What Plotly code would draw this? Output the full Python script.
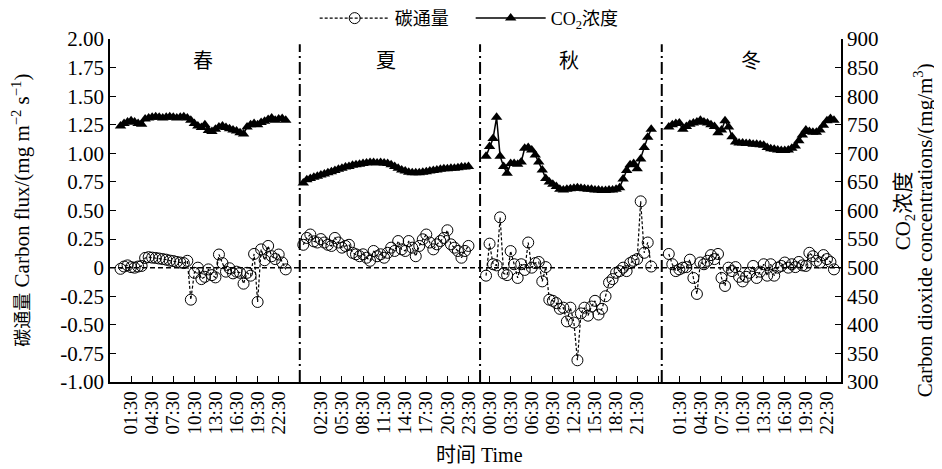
import plotly.graph_objects as go

# ---------------- data ----------------
seasons = ["春", "夏", "秋", "冬"]

flux_spring = [-0.01, 0.01, 0.02, 0.005, 0.0, 0.01, 0.015, 0.085, 0.092, 0.088, 0.085, 0.08,
               0.075, 0.07, 0.062, 0.058, 0.05, 0.045, 0.04, 0.06, -0.28, -0.045, 0.0, -0.1,
               -0.08, -0.015, -0.065, -0.085, 0.115, 0.04, -0.035, -0.005, -0.05, -0.035, -0.045, -0.14,
               -0.045, -0.07, 0.12, -0.30, 0.16, 0.065, 0.19, 0.10, 0.075, 0.115, 0.045, -0.015]
flux_summer = [0.20, 0.26, 0.29, 0.23, 0.22, 0.25, 0.22, 0.20, 0.19, 0.26, 0.22, 0.175,
               0.19, 0.20, 0.13, 0.117, 0.10, 0.117, 0.087, 0.06, 0.146, 0.10, 0.117, 0.087,
               0.13, 0.175, 0.146, 0.233, 0.16, 0.146, 0.233, 0.175, 0.10, 0.19, 0.248, 0.29,
               0.22, 0.16, 0.204, 0.233, 0.26, 0.327, 0.204, 0.175, 0.146, 0.087, 0.146, 0.19]
flux_autumn = [-0.07, 0.21, 0.03, 0.02, 0.44, -0.05, -0.065, 0.145, 0.03, -0.09, 0.03, -0.02,
               0.22, 0.0, 0.04, 0.05, -0.12, 0.005, -0.28, -0.29, -0.31, -0.36, -0.35, -0.47,
               -0.35, -0.48, -0.81, -0.40, -0.35, -0.42, -0.34, -0.29, -0.41, -0.36, -0.25, -0.13,
               -0.10, -0.045, -0.03, 0.0, -0.03, 0.04, 0.06, 0.075, 0.58, 0.13, 0.22, 0.01]
flux_winter = [0.12, 0.03, -0.03, -0.015, 0.0, 0.005, 0.07, -0.09, -0.23, 0.045, 0.03, 0.06,
               0.11, 0.075, 0.12, -0.09, -0.16, 0.0, -0.03, 0.005, -0.08, -0.12, -0.08, -0.045,
               0.015, -0.09, -0.035, 0.03, -0.07, 0.03, -0.07, 0.0, 0.015, 0.045, 0.0, 0.03,
               0.005, 0.05, 0.02, 0.015, 0.13, 0.10, 0.06, 0.045, 0.11, 0.075, 0.05, -0.015]

co2_spring = [748, 752, 755, 757, 755, 752, 751, 760, 762, 763, 764, 763,
              762, 763, 764, 763, 762, 763, 764, 762, 758, 752, 748, 745,
              750, 740, 738, 742, 746, 748, 745, 743, 741, 739, 736, 734,
              746, 750, 752, 750, 754, 756, 759, 762, 758, 760, 761, 758]
co2_summer = [648, 654, 656, 658, 660, 662, 664, 666, 668, 670, 672, 674,
              676, 677, 679, 680, 681, 682, 683, 684, 684, 683, 684, 683,
              682, 680, 677, 674, 671, 669, 667, 666, 666, 666, 667, 668,
              669, 670, 671, 672, 673, 673, 674, 674, 675, 676, 676, 677]
co2_autumn = [695, 712, 726, 763, 695, 677, 665, 682, 682, 681, 685, 709,
              710, 706, 697, 685, 671, 656, 650, 646, 642, 637, 636, 637,
              638, 639, 640, 639, 638, 637, 637, 636, 636, 635, 635, 636,
              636, 637, 640, 655, 670, 680, 682, 673, 690, 710, 728, 742]
co2_winter = [746, 750, 752, 753, 742, 747, 751, 753, 755, 758, 755, 753,
              750, 747, 736, 741, 757, 746, 729, 720, 718, 718, 717, 717,
              716, 716, 715, 714, 710, 708, 707, 706, 705, 705, 706, 709,
              713, 722, 732, 741, 738, 737, 737, 741, 749, 757, 761, 758]

tick_labels = ["01:30", "04:30", "07:30", "10:30", "13:30", "16:30", "19:30", "22:30", "",
               "02:30", "05:30", "08:30", "11:30", "14:30", "17:30", "20:30", "23:30",
               "00:30", "03:30", "06:30", "09:30", "12:30", "15:30", "18:30", "21:30", "",
               "01:30", "04:30", "07:30", "10:30", "13:30", "16:30", "19:30", "22:30"]

left_ticks = [-1.0, -0.75, -0.5, -0.25, 0.0, 0.25, 0.5, 0.75, 1.0, 1.25, 1.5, 1.75, 2.0]
left_labels = ["-1.00", "-0.75", "-0.50", "-0.25", "0", "0.25", "0.50", "0.75",
               "1.00", "1.25", "1.50", "1.75", "2.00"]

# ---------------- layout helpers ----------------
season_start = [3, 55, 107, 159]      # x position of first half-hour of each season
divider_x = [54, 105.3, 157]          # season separators
axis_len = 208
tick_step = 6

flux_all = [flux_spring, flux_summer, flux_autumn, flux_winter]
co2_all = [co2_spring, co2_summer, co2_autumn, co2_winter]

xs, fl, cc = [], [], []
for k in range(4):
    n = len(flux_all[k])
    xs += [season_start[k] + i for i in range(n)] + [None]
    fl += flux_all[k] + [None]
    cc += co2_all[k] + [None]

FONT = "Liberation Serif, Times New Roman, Noto Sans CJK SC"
CJK = "<span style='font-family:Noto Sans CJK SC;font-size:18px;color:#000000'>{}</span>"

fig = go.Figure()
fig.add_trace(go.Scatter(
    x=xs, y=fl, mode="lines+markers", name="碳通量", connectgaps=False,
    line=dict(color="black", width=1.2, dash="3px,2px"),
    marker=dict(symbol="circle-open", size=11, color="black", line=dict(width=1, color="black"))))
fig.add_trace(go.Scatter(
    x=xs, y=cc, mode="lines+markers", name="CO<sub>2</sub>浓度", yaxis="y2", connectgaps=False,
    line=dict(color="black", width=1.5),
    marker=dict(symbol="triangle-up", size=10, color="black")))

shapes = [dict(type="line", xref="paper", yref="y", x0=0, x1=1, y0=0, y1=0,
               line=dict(color="black", width=1.5, dash="5px,3px"))]
for dx in divider_x:
    shapes.append(dict(type="line", xref="x", yref="paper", x0=dx, x1=dx, y0=0, y1=0.985,
                       line=dict(color="black", width=2, dash="12px,4px,2px,4px")))

annotations = []
for k, s in enumerate(seasons):
    annotations.append(dict(text=s, x=season_start[k] + 23.5, xref="x", y=0.937, yref="paper",
                            xanchor="center", yanchor="middle",
                            showarrow=False, font=dict(size=20, family=FONT, color="black")))
annotations += [
    dict(text=CJK.format("碳通量") + " Carbon flux/(mg m<sup>−2</sup> s<sup>−1</sup>)", textangle=-90,
         x=-0.1215, xref="paper", y=0.5, yref="paper", xanchor="center", yanchor="middle",
         showarrow=False, font=dict(size=21, family=FONT, color="black")),
    dict(text="CO<sub>2</sub>浓度", textangle=-90,
         x=1.086, xref="paper", y=0.5, yref="paper", xanchor="center", yanchor="middle",
         showarrow=False, font=dict(size=21, family=FONT, color="black")),
    dict(text="Carbon dioxide concentrations/(mg/m<sup>3</sup>)", textangle=-90,
         x=1.1125, xref="paper", y=0.443, yref="paper", xanchor="center", yanchor="middle",
         showarrow=False, font=dict(size=21, family=FONT, color="black")),
    dict(text="时间 Time", x=0.506, xref="paper", y=-0.213, yref="paper",
         xanchor="center", yanchor="middle", showarrow=False,
         font=dict(size=20, family=FONT, color="black")),
]

# page body has an 8px margin: the figure is shifted accordingly
fig.update_layout(
    width=934, height=461,
    margin=dict(l=102, r=101, t=31, b=87, autoexpand=False),
    paper_bgcolor="white", plot_bgcolor="white",
    font=dict(family=FONT, size=18, color="black"),
    showlegend=True,
    legend=dict(orientation="h", x=0.28, xanchor="left", y=1.06, yanchor="middle",
                font=dict(size=18, family=FONT), bgcolor="rgba(0,0,0,0)",
                entrywidth=71, itemwidth=70),
    shapes=shapes, annotations=annotations,
    xaxis=dict(range=[0, axis_len], tickvals=[tick_step * (i + 1) for i in range(len(tick_labels))],
               ticktext=tick_labels, tickangle=-90, ticks="inside", ticklen=6, tickwidth=1,
               tickcolor="black", showline=True, linecolor="black", linewidth=1.5,
               showgrid=False, zeroline=False, mirror=False, tickfont=dict(size=19)),
    yaxis=dict(range=[-1, 2], tickvals=left_ticks, ticktext=left_labels, ticks="inside",
               ticklen=6, tickcolor="black", showline=True, linecolor="black", linewidth=1.5,
               showgrid=False, zeroline=False, tickfont=dict(size=21)),
    yaxis2=dict(range=[300, 900], dtick=50, tick0=300, overlaying="y", side="right",
                ticks="inside", ticklen=6, tickcolor="black", showline=True, linecolor="black",
                linewidth=1.5, showgrid=False, zeroline=False, tickfont=dict(size=21)),
)

fig.write_html("out.html")
